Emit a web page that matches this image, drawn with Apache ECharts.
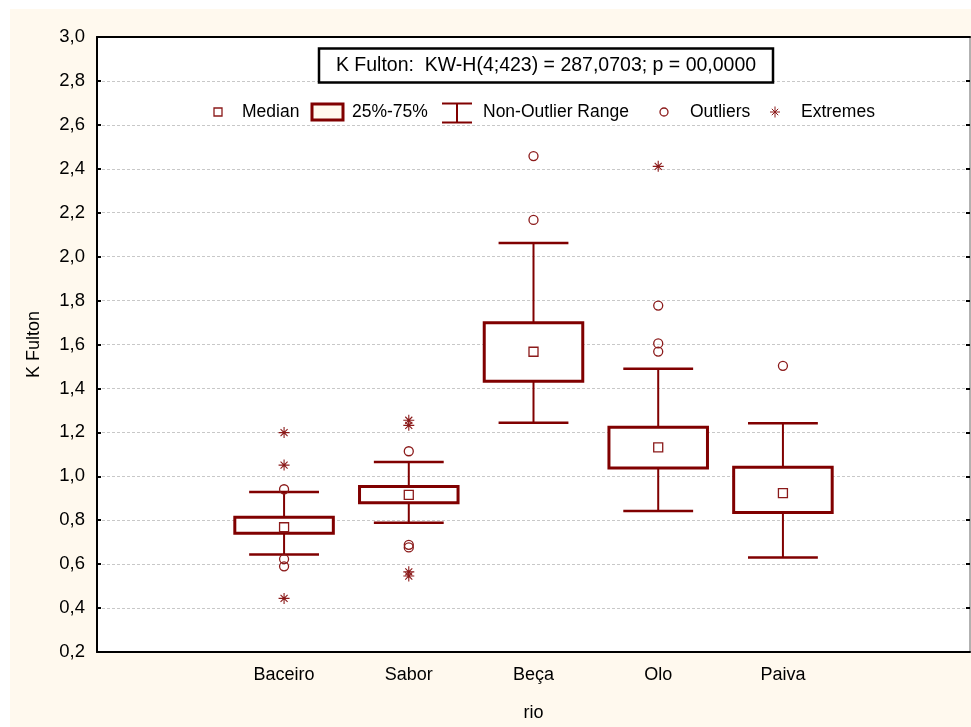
<!DOCTYPE html>
<html>
<head>
<meta charset="utf-8">
<script src="https://cdn.jsdelivr.net/npm/echarts@6/dist/echarts.min.js"></script>
<style>html,body{margin:0;padding:0;background:#fff}#c{width:971px;height:727px}</style>
</head>
<body>
<div id="c"></div>
<script>
// ---- data ----
var categories = ['Baceiro', 'Sabor', 'Beça', 'Olo', 'Paiva'];
var axisCategories = [''].concat(categories).concat(['']);
var whiskerLow  = [0.644, 0.788, 1.244, 0.842, 0.630];
var q1          = [0.741, 0.880, 1.433, 1.038, 0.835];
var medians     = [0.768, 0.915, 1.567, 1.132, 0.923];
var q3          = [0.814, 0.953, 1.699, 1.223, 1.041];
var whiskerHigh = [0.929, 1.065, 2.062, 1.490, 1.242];
var outliers = [
  ['Baceiro', 0.941], ['Baceiro', 0.623], ['Baceiro', 0.590],
  ['Sabor', 1.114], ['Sabor', 0.688], ['Sabor', 0.676],
  ['Beça', 2.458], ['Beça', 2.167],
  ['Olo', 1.777], ['Olo', 1.605], ['Olo', 1.568],
  ['Paiva', 1.503]
];
var extremes = [
  ['Baceiro', 1.199], ['Baceiro', 1.051], ['Baceiro', 0.444],
  ['Sabor', 1.255], ['Sabor', 1.232], ['Sabor', 0.565], ['Sabor', 0.546],
  ['Olo', 2.411]
];
var yTicks = { min: 0.2, max: 3.0, interval: 0.2 };
var titleText = 'K Fulton:  KW-H(4;423) = 287,0703; p = 00,0000';
var legendLabels = ['Median', '25%-75%', 'Non-Outlier Range', 'Outliers', 'Extremes'];

// ---- build ----
var RED = '#800000';
var RED2 = '#8b1a1a';
var CREAM = '#FFF9EE';
var FONT = 'Liberation Sans, Arial, sans-serif';

var boxData = categories.map(function (c, i) {
  return [c, whiskerLow[i], q1[i], medians[i], q3[i], whiskerHigh[i]];
});
var medianData = categories.map(function (c, i) { return [c, medians[i]]; });

var asterPath = 'path://M0,5L10,5M5,0L5,10M1.8,1.8L8.2,8.2M8.2,1.8L1.8,8.2';

function renderBox(params, api) {
  var x = api.value(0);
  var pLow = api.coord([x, api.value(1)]);
  var pQ1 = api.coord([x, api.value(2)]);
  var pQ3 = api.coord([x, api.value(4)]);
  var pHigh = api.coord([x, api.value(5)]);
  var band = api.size([1, 0])[0];
  var bw = band * 0.79, cw = band * 0.56;
  var cx = pQ1[0];
  var lineStyle = { stroke: RED, lineWidth: 2 };
  return {
    type: 'group',
    children: [
      { type: 'line', shape: { x1: cx, y1: pQ3[1], x2: cx, y2: pHigh[1] }, style: lineStyle },
      { type: 'line', shape: { x1: cx, y1: pQ1[1], x2: cx, y2: pLow[1] }, style: lineStyle },
      { type: 'line', shape: { x1: cx - cw / 2, y1: pHigh[1], x2: cx + cw / 2, y2: pHigh[1] }, style: { stroke: RED, lineWidth: 2.5 } },
      { type: 'line', shape: { x1: cx - cw / 2, y1: pLow[1], x2: cx + cw / 2, y2: pLow[1] }, style: { stroke: RED, lineWidth: 2.5 } },
      { type: 'rect', shape: { x: cx - bw / 2, y: pQ3[1], width: bw, height: pQ1[1] - pQ3[1] },
        style: { fill: '#fff', stroke: RED, lineWidth: 3 } }
    ]
  };
}

var chart = echarts.init(document.getElementById('c'), null, { renderer: 'canvas' });

var legendY = 112;
var txtStyle = { fill: '#000', fontSize: 17.5, fontFamily: FONT, verticalAlign: 'middle', align: 'left' };
function t(x, s) { return { type: 'text', x: x, y: legendY, style: Object.assign({ text: s }, txtStyle), z: 100 }; }

var graphic = [
  { type: 'rect', shape: { x: 0, y: 0, width: 971, height: 9 }, style: { fill: '#fff' }, z: 100 },
  { type: 'rect', shape: { x: 0, y: 0, width: 10, height: 727 }, style: { fill: '#fff' }, z: 100 },
  // title box
  { type: 'rect', shape: { x: 319, y: 48.5, width: 454, height: 34 }, style: { fill: '#fff', stroke: '#000', lineWidth: 2.5 }, z: 100 },
  { type: 'text', x: 546, y: 66, style: { text: titleText, fill: '#000', fontSize: 19.5, fontFamily: FONT, align: 'center', verticalAlign: 'middle' }, z: 101 },
  // legend: median
  { type: 'rect', shape: { x: 214, y: 108, width: 8, height: 8 }, style: { fill: '#fff', stroke: RED2, lineWidth: 1.3 }, z: 100 },
  t(242, legendLabels[0]),
  // box
  { type: 'rect', shape: { x: 312, y: 104, width: 31, height: 16 }, style: { fill: CREAM, stroke: RED, lineWidth: 3 }, z: 100 },
  t(352, legendLabels[1]),
  // I-beam
  { type: 'line', shape: { x1: 442, y1: 103.5, x2: 472, y2: 103.5 }, style: { stroke: RED, lineWidth: 2 }, z: 100 },
  { type: 'line', shape: { x1: 442, y1: 122.5, x2: 472, y2: 122.5 }, style: { stroke: RED, lineWidth: 2 }, z: 100 },
  { type: 'line', shape: { x1: 457, y1: 103.5, x2: 457, y2: 122.5 }, style: { stroke: RED, lineWidth: 2 }, z: 100 },
  t(483, legendLabels[2]),
  // outlier circle
  { type: 'circle', shape: { cx: 664, cy: legendY, r: 4 }, style: { fill: 'none', stroke: RED2, lineWidth: 1.3 }, z: 100 },
  t(690, legendLabels[3]),
  // extreme asterisk
  { type: 'group', x: 775, y: legendY, z: 100, children: [
    { type: 'line', shape: { x1: -5, y1: 0, x2: 5, y2: 0 }, style: { stroke: RED2, lineWidth: 1 } },
    { type: 'line', shape: { x1: 0, y1: -5.5, x2: 0, y2: 5.5 }, style: { stroke: RED2, lineWidth: 1 } },
    { type: 'line', shape: { x1: -3.2, y1: -3.2, x2: 3.2, y2: 3.2 }, style: { stroke: RED2, lineWidth: 1 } },
    { type: 'line', shape: { x1: 3.2, y1: -3.2, x2: -3.2, y2: 3.2 }, style: { stroke: RED2, lineWidth: 1 } }
  ] },
  t(801, legendLabels[4])
];

var labelFmt = function (v) { return v.toFixed(1).replace('.', ','); };

var option = {
  backgroundColor: CREAM,
  animation: false,
  textStyle: { fontFamily: FONT },
  grid: { left: 97, right: 1, top: 37, bottom: 75, show: true, backgroundColor: '#fff', borderWidth: 0 },
  xAxis: [
    {
      type: 'category', data: axisCategories, boundaryGap: true, position: 'bottom',
      axisLine: { lineStyle: { color: '#000', width: 2 } },
      axisTick: { inside: true, alignWithLabel: true, length: 4, lineStyle: { color: '#000', width: 2 } },
      axisLabel: { color: '#000', fontSize: 18, fontFamily: FONT, margin: 14, interval: 0 },
      splitLine: { show: false },
      name: 'rio', nameLocation: 'middle', nameGap: 52,
      nameTextStyle: { color: '#000', fontSize: 18, fontFamily: FONT }
    },
    {
      type: 'category', data: axisCategories, boundaryGap: true, position: 'top',
      axisLine: { lineStyle: { color: '#000', width: 2 } },
      axisTick: { inside: true, alignWithLabel: true, length: 4, lineStyle: { color: '#000', width: 2 } },
      axisLabel: { show: false }, splitLine: { show: false }
    }
  ],
  yAxis: [
    {
      type: 'value', min: yTicks.min, max: yTicks.max, interval: yTicks.interval, position: 'left',
      axisLine: { show: true, lineStyle: { color: '#000', width: 2 } },
      axisTick: { show: true, inside: true, length: 4, lineStyle: { color: '#000', width: 2 } },
      axisLabel: { color: '#000', fontSize: 18.5, fontFamily: FONT, margin: 12, formatter: labelFmt },
      splitLine: { show: true, lineStyle: { color: '#c8c8c8', type: [3, 2], width: 1 } },
      name: 'K Fulton', nameLocation: 'middle', nameRotate: 90, nameGap: 54,
      nameTextStyle: { color: '#000', fontSize: 18, fontFamily: FONT }
    },
    {
      type: 'value', min: yTicks.min, max: yTicks.max, interval: yTicks.interval, position: 'right',
      axisLine: { show: true, lineStyle: { color: '#999', width: 1.5 } },
      axisTick: { show: true, inside: true, length: 4, lineStyle: { color: '#000', width: 2 } },
      axisLabel: { show: false }, splitLine: { show: false }
    }
  ],
  series: [
    {
      type: 'custom', name: 'box', xAxisIndex: 0, yAxisIndex: 0,
      renderItem: renderBox, data: boxData,
      encode: { x: 0, y: [1, 2, 3, 4, 5] }, z: 3
    },
    {
      type: 'scatter', name: 'Median', data: medianData, symbol: 'rect', symbolSize: 9,
      itemStyle: { color: '#fff', borderColor: RED2, borderWidth: 1.3, opacity: 1 }, z: 4
    },
    {
      type: 'scatter', name: 'Outliers', data: outliers, symbol: 'circle', symbolSize: 9,
      itemStyle: { color: 'rgba(255,255,255,0)', borderColor: RED2, borderWidth: 1.3, opacity: 1 }, z: 4
    },
    {
      type: 'scatter', name: 'Extremes', data: extremes, symbol: asterPath, symbolSize: 11,
      itemStyle: { color: 'rgba(255,255,255,0)', borderColor: RED2, borderWidth: 1.1, opacity: 1 }, z: 4
    }
  ],
  graphic: graphic
};
chart.setOption(option);
</script>
</body>
</html>
